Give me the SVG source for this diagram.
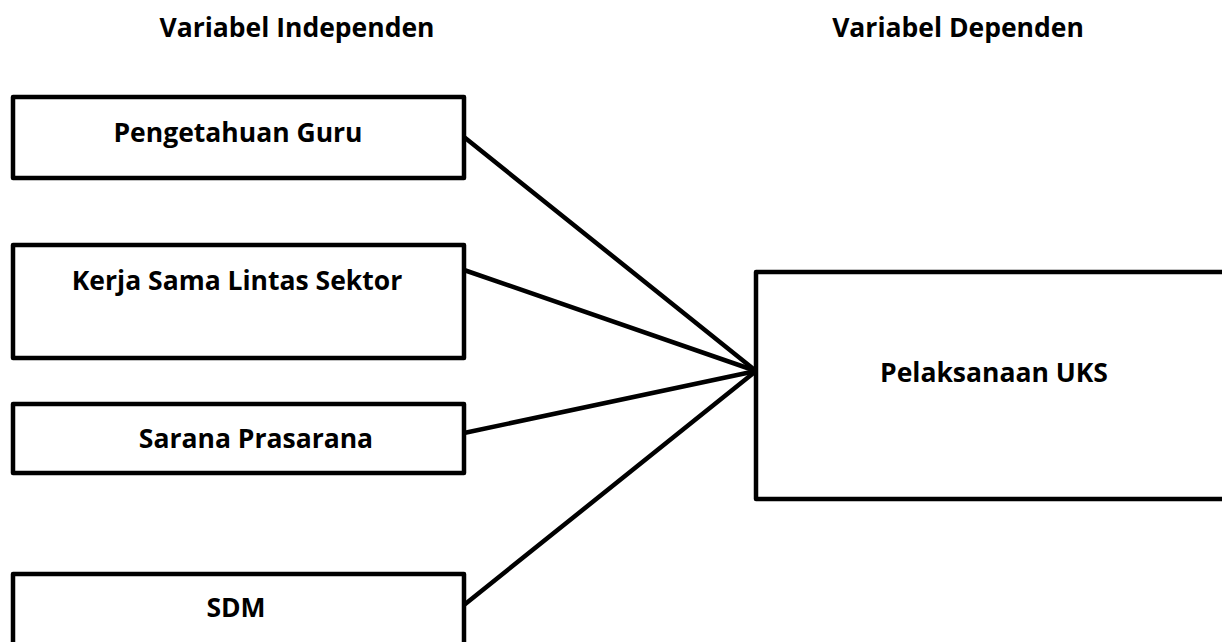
<svg xmlns="http://www.w3.org/2000/svg" width="1222" height="642" viewBox="0 0 1222 642">
<style>
.box{fill:#fff;stroke:#000;stroke-width:4.5;stroke-linejoin:round}
.t{font-family:"Open Sans","Liberation Sans",sans-serif;font-weight:bold;font-size:26.5px;fill:#000;text-anchor:middle}
.ln{stroke:#000;stroke-width:4.5;fill:none;stroke-linecap:round}
</style>
<rect width="1222" height="642" fill="#fff"/>
<text class="t" x="297" y="37">Variabel Independen</text>
<text class="t" x="958" y="37">Variabel Dependen</text>
<g id="connectors">
<line class="ln" x1="464" y1="137" x2="756" y2="371"/>
<line class="ln" x1="464" y1="270" x2="756" y2="371"/>
<line class="ln" x1="464" y1="433" x2="756" y2="371"/>
<line class="ln" x1="464" y1="605" x2="756" y2="371"/>
</g>
<g id="n1"><rect class="box" x="13" y="97" width="451" height="81"/><text class="t" x="238" y="142">Pengetahuan Guru</text></g>
<g id="n2"><rect class="box" x="13" y="245" width="451" height="113"/><text class="t" x="237" y="290">Kerja Sama Lintas Sektor</text></g>
<g id="n3"><rect class="box" x="13" y="404" width="451" height="69"/><text class="t" x="256" y="448">Sarana Prasarana</text></g>
<g id="n4"><rect class="box" x="13" y="574" width="451" height="80"/><text class="t" x="236" y="617">SDM</text></g>
<g id="n5"><rect class="box" x="756" y="272" width="480" height="227"/><text class="t" x="994" y="382">Pelaksanaan UKS</text></g>
</svg>
